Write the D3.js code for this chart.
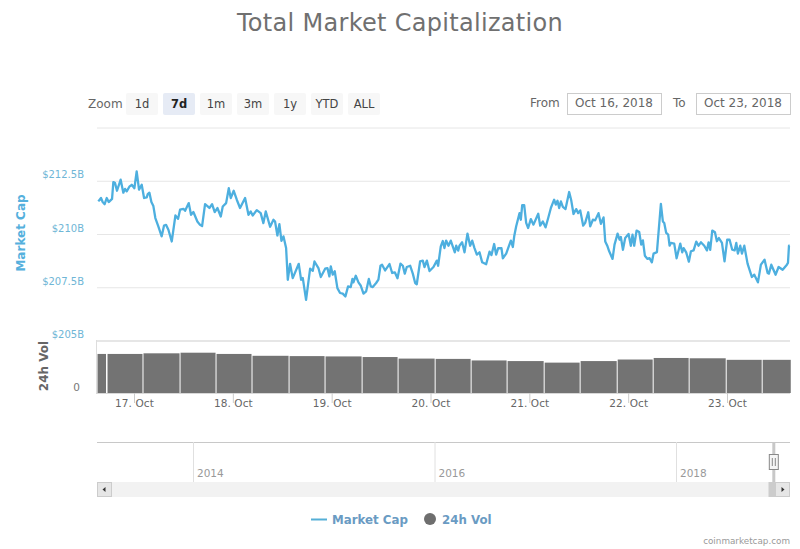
<!DOCTYPE html>
<html>
<head>
<meta charset="utf-8">
<script src="https://cdn.jsdelivr.net/npm/d3@7"></script>
<style>
	html, body { margin: 0; padding: 0; background: #fff; }
	svg { display: block; }
	text { font-family: "DejaVu Sans", sans-serif; }
</style>
</head>
<body>
<div class="chart"></div>
<script>
// market cap: day of October (with fraction) and value in $B
const capDays = [16.639,16.666,16.683,16.703,16.724,16.744,16.778,16.791,16.808,16.828,16.865,16.892,16.909,16.926,16.953,16.977,
	17.004,17.027,17.051,17.078,17.102,17.129,17.139,17.156,17.176,17.196,17.216,17.247,17.280,17.304,17.324,17.348,17.382,17.419,17.446,17.466,
	17.500,17.517,17.554,17.577,17.601,17.641,17.668,17.689,17.719,17.743,17.763,17.790,17.817,17.844,17.878,17.898,17.932,17.959,17.979,
	18.009,18.040,18.073,18.124,18.158,18.181,18.201,18.242,18.282,18.309,18.333,18.377,18.411,18.427,18.451,18.471,18.492,18.512,18.539,18.556,
	18.579,18.606,18.667,18.691,18.708,18.741,18.782,18.809,18.826,18.866,18.890,18.934,18.957,18.977,
	18.991,19.011,19.031,19.058,19.085,19.112,19.139,19.166,19.193,19.210,19.220,19.244,19.271,19.295,19.322,19.349,19.376,19.396,19.416,19.450,
	19.473,19.494,19.510,19.541,19.585,19.612,19.639,19.666,19.696,19.720,19.740,19.760,19.794,19.821,19.845,19.861,19.895,19.922,19.939,19.963,19.990,
	20.030,20.064,20.077,20.104,20.124,20.141,20.158,20.182,20.205,20.246,20.260,20.280,20.293,20.320,20.344,20.374,20.401,20.422,20.445,20.469,
	20.496,20.523,20.563,20.597,20.617,20.644,20.664,20.685,20.718,20.732,20.766,20.792,20.813,20.833,20.847,20.867,20.901,20.914,20.928,20.948,20.968,20.988,
	21.015,21.042,21.090,21.110,21.137,21.164,21.191,21.218,
	21.231,21.251,21.268,21.285,21.302,21.319,21.339,21.366,21.403,21.424,21.447,21.474,21.494,21.515,21.545,21.565,21.596,21.616,21.643,21.666,
	21.700,21.724,21.751,21.768,21.791,21.808,21.842,21.862,21.893,21.913,21.926,21.947,21.970,
	22.004,22.027,22.044,22.061,22.085,22.112,22.132,22.149,22.169,22.196,22.216,22.240,22.257,22.291,22.331,22.351,22.365,22.385,22.405,22.419,22.432,22.466,22.490,
	22.527,22.547,22.561,22.587,22.614,22.635,22.662,22.689,22.712,22.736,22.770,22.797,22.814,22.830,22.851,22.878,22.898,22.918,22.949,22.975,
	23.002,23.026,23.053,23.077,23.094,23.110,23.134,23.151,23.175,23.208,23.252,23.276,23.313,23.343,23.380,23.411,23.424,23.448,23.492,
	23.522,23.563,23.606,23.617,23.627,23.634];
const capValues = [211.53,211.69,211.50,211.40,211.69,211.50,211.65,212.44,212.39,212.03,212.55,211.94,212.12,212.00,212.22,212.31,
	212.15,212.94,212.08,212.31,211.69,211.72,211.87,211.94,211.50,211.31,210.75,210.35,209.89,210.40,210.43,210.20,209.65,210.87,210.71,211.14,
	211.18,211.09,211.45,210.90,211.03,210.59,210.43,210.37,211.40,211.31,211.22,211.40,211.03,211.22,210.82,211.29,211.45,212.15,211.69,
	212.03,211.61,211.22,211.69,210.90,211.06,210.87,211.12,210.98,210.51,211.06,210.34,210.67,210.59,209.93,210.46,209.68,209.89,209.34,207.85,
	208.60,207.93,208.60,207.85,207.93,206.91,208.37,208.27,208.71,208.40,207.98,208.37,208.40,208.01,
	208.48,208.09,208.25,207.46,207.23,207.20,207.07,207.54,207.51,207.89,207.73,208.04,207.73,207.57,207.20,207.31,207.89,207.54,207.51,207.70,
	207.86,208.51,208.56,208.29,208.59,208.17,208.20,207.92,208.61,208.51,208.14,208.45,208.51,208.14,207.70,207.64,208.72,208.75,208.45,208.75,208.26,
	208.45,208.75,208.51,209.42,209.67,209.34,209.69,209.45,209.69,209.14,209.45,209.22,209.45,209.61,209.14,210.02,209.45,209.69,209.34,209.03,
	209.14,208.67,208.58,209.17,209.01,209.53,209.03,209.34,209.33,208.86,209.08,209.42,209.69,209.39,209.89,210.36,210.98,210.67,211.36,211.36,210.52,210.28,
	210.70,210.44,210.95,210.39,210.59,210.31,210.75,211.22,
	211.38,211.61,211.38,211.56,211.22,211.53,211.27,211.17,211.97,211.58,210.94,211.17,210.98,211.11,210.39,210.52,211.02,210.36,210.67,210.64,
	210.98,210.48,210.78,209.65,209.42,209.19,208.83,209.50,210.02,209.73,209.86,209.26,209.81,
	210.00,209.45,209.97,209.45,210.16,210.09,209.50,209.70,208.98,208.83,208.87,208.67,209.08,209.15,211.41,210.59,210.52,210.05,209.97,209.45,209.58,209.55,208.86,
	209.55,209.14,209.34,209.14,208.70,209.19,209.23,209.64,209.45,209.61,209.45,209.23,209.61,209.26,210.16,210.08,209.66,209.81,209.58,208.72,
	209.73,209.73,209.26,209.23,209.58,209.08,209.45,209.08,209.45,208.61,207.98,208.09,207.73,208.56,208.79,208.17,208.14,208.56,208.09,
	208.45,208.32,208.56,208.64,209.45,209.45];

// 24h volume columns: edges in days, one value in $B per column
const volEdges = [16.631,16.727,17.091,17.466,17.830,18.194,18.569,18.933,19.308,19.672,20.047,20.411,20.775,21.150,21.514,21.889,22.253,22.617,22.992,23.356,23.640];
const volValues = [12.6,12.6,12.8,13.0,12.6,12.0,11.9,11.8,11.6,11.1,11.0,10.5,10.3,9.8,10.3,10.8,11.3,11.2,10.7,10.7];

const dayTicks = [17,18,19,20,21,22,23];
const capTicks = [205,207.5,210,212.5,215];
const yearTicks = [2014,2016,2018];
const zoomButtons = ["1d","7d","1m","3m","1y","YTD","ALL"];
const selectedYear = 2018.81;

const width = 800, height = 549;
const plotLeft = 97, plotRight = 790;

const svg = d3.select(".chart").append("svg").
	attr("width", width).
	attr("height", height);

// scales
const x = d3.scaleLinear().domain([17, 23]).range([134, 727]);
const yCap = d3.scaleLinear().domain([205, 215]).range([340.5, 127.5]);
const yVol = d3.scaleLinear().domain([0, 17]).range([393, 340.3]);
const xNav = d3.scaleLinear().domain([2014, 2018]).range([193, 676]);

const grey = "#666666", capBlue = "#4dafdf", labelBlue = "#6fb6d6";

// title
svg.append("text").
	attr("x", 400).attr("y", 31).
	attr("text-anchor", "middle").
	style("font-size", "24px").
	style("letter-spacing", "0.3px").
	style("fill", "#707070").
	text("Total Market Capitalization");

// range selector
svg.append("text").attr("x", 88).attr("y", 108).
	style("font-size", "12px").style("fill", grey).text("Zoom");
const btn = svg.append("g").selectAll("g").data(zoomButtons).enter().append("g").
	attr("transform", (d, i) => "translate(" + (126 + i * 37) + ",93)");
btn.append("rect").
	attr("width", 32).attr("height", 22).attr("rx", 2).
	style("fill", d => d === "7d" ? "#e6ebf5" : "#f7f7f7");
btn.append("text").
	attr("x", 16).attr("y", 15).
	attr("text-anchor", "middle").
	style("font-size", "11.5px").
	style("font-weight", d => d === "7d" ? "bold" : "normal").
	style("fill", d => d === "7d" ? "#222" : "#444").
	text(d => d);

// date inputs
const inputs = [
	{label: "From", labelX: 530, boxX: 567, value: "Oct 16, 2018"},
	{label: "To", labelX: 673, boxX: 696, value: "Oct 23, 2018"}
];
inputs.forEach(d => {
	svg.append("text").attr("x", d.labelX).attr("y", 107).
		style("font-size", "12px").style("fill", grey).text(d.label);
	svg.append("rect").attr("x", d.boxX + 0.5).attr("y", 93.5).attr("width", 94).attr("height", 21).
		style("fill", "#fff").style("stroke", "#cccccc");
	svg.append("text").attr("x", d.boxX + 47).attr("y", 107).attr("text-anchor", "middle").
		style("font-size", "12px").style("fill", grey).text(d.value);
});

// market cap grid and axis
const capAxis = svg.append("g").
	call(d3.axisLeft(yCap).tickValues(capTicks).tickSize(0).tickFormat(d => "$" + d + "B"));
capAxis.select(".domain").remove();
capAxis.selectAll(".tick text").
	attr("x", 84).attr("y", -6).attr("dy", "0.32em").
	style("font-size", "10px").style("font-family", "DejaVu Sans").style("fill", labelBlue);
capAxis.selectAll(".tick").filter(d => d === 215).select("text").remove();
capAxis.selectAll(".tick").append("line").
	attr("x1", plotLeft).attr("x2", plotRight).
	style("stroke", "#e6e6e6").
	style("stroke-width", d => d === 205 ? 2 : 1);

// volume columns
svg.append("g").selectAll("rect").data(volValues).enter().append("rect").
	attr("x", (d, i) => x(volEdges[i]) + (i ? 0.5 : 0)).
	attr("width", (d, i) => x(volEdges[i + 1]) - x(volEdges[i]) - (i === volValues.length - 1 ? 0 : 1)).
	attr("y", d => yVol(d)).
	attr("height", d => yVol(0) - yVol(d)).
	style("fill", "#737373");

// left edge of the volume pane and the zero label
svg.append("line").attr("x1", 96.5).attr("x2", 96.5).attr("y1", 340).attr("y2", 393).style("stroke", "#dddddd");
svg.append("text").attr("x", 80).attr("y", yVol(0) - 2).attr("text-anchor", "end").
	style("font-size", "10.5px").style("fill", "#777").text("0");

// market cap line
const line = d3.line().x(d => x(d[0])).y(d => yCap(d[1]));
svg.append("path").
	datum(capDays.map((d, i) => [d, capValues[i]])).
	attr("d", line).
	style("fill", "none").
	style("stroke", capBlue).
	style("stroke-width", 2.3).
	style("stroke-linejoin", "round");

// time axis
const xAxis = svg.append("g").
	attr("transform", "translate(0,393)").
	call(d3.axisBottom(x).tickValues(dayTicks).tickSize(10).tickFormat(d => d + ". Oct"));
xAxis.select(".domain").attr("d", "M96,0.5H" + plotRight).style("stroke", "#d8d8d8");
xAxis.selectAll(".tick line").style("stroke", "#cccccc");
xAxis.selectAll(".tick text").
	attr("y", 11).attr("dy", "0.32em").
	style("font-size", "10.5px").style("font-family", "DejaVu Sans").
	style("letter-spacing", "0.1px").style("fill", grey);

// axis titles
svg.append("text").
	attr("transform", "translate(25,233) rotate(-90)").attr("text-anchor", "middle").
	style("font-size", "12px").style("font-weight", "bold").style("fill", "#55b0dd").
	text("Market Cap");
svg.append("text").
	attr("transform", "translate(48,366) rotate(-90)").attr("text-anchor", "middle").
	style("font-size", "12px").style("font-weight", "bold").style("fill", grey).
	text("24h Vol");

// navigator
svg.append("line").attr("x1", plotLeft).attr("x2", plotRight).attr("y1", 442.5).attr("y2", 442.5).style("stroke", "#c8c8c8");
const navAxis = svg.append("g").
	attr("transform", "translate(0,442)").
	call(d3.axisBottom(xNav).tickValues(yearTicks).tickSize(40).tickFormat(d => d));
navAxis.select(".domain").remove();
navAxis.selectAll(".tick line").style("stroke", "#e0e0e0");
navAxis.selectAll(".tick text").
	attr("text-anchor", "start").attr("x", 3.5).attr("y", 32).attr("dy", "0.32em").
	style("font-size", "10.5px").style("font-family", "DejaVu Sans").style("fill", "#999");

// scrollbar
svg.append("rect").attr("x", plotLeft).attr("y", 482).attr("width", plotRight - plotLeft).attr("height", 15).style("fill", "#f2f2f2");
svg.append("rect").attr("x", 768.5).attr("y", 482).attr("width", 7.5).attr("height", 15).style("fill", "#cccccc");
[{bx: 97.5, dir: -1}, {bx: 775.5, dir: 1}].forEach(b => {
	svg.append("rect").attr("x", b.bx).attr("y", 482.5).attr("width", 14).attr("height", 14).
		style("fill", "#e6e6e6").style("stroke", "#cccccc");
	const cx = b.bx + 7;
	svg.append("path").
		attr("d", "M" + (cx + b.dir * 2) + ",489.5L" + (cx - b.dir * 1) + ",487V492Z").
		style("fill", "#333");
});

// selected range in the navigator
const selX = xNav(selectedYear);
svg.append("rect").attr("x", selX - 1.5).attr("y", 442).attr("width", 3).attr("height", 40).style("fill", "#c8c8c8");
svg.append("rect").attr("x", selX - 4.5).attr("y", 454.5).attr("width", 9).attr("height", 15).
	style("fill", "#f5f5f5").style("stroke", "#888");
[-1.5, 1.5].forEach(dx => {
	svg.append("line").attr("x1", selX + dx).attr("x2", selX + dx).attr("y1", 458).attr("y2", 466).style("stroke", "#888");
});

// legend
svg.append("line").attr("x1", 311).attr("x2", 327).attr("y1", 519.5).attr("y2", 519.5).
	style("stroke", "#55afd6").style("stroke-width", 2);
svg.append("text").attr("x", 332).attr("y", 524).
	style("font-size", "11.8px").style("font-weight", "bold").style("fill", "#6a9bc3").text("Market Cap");
svg.append("circle").attr("cx", 430).attr("cy", 519).attr("r", 6).style("fill", "#6e6e6e");
svg.append("text").attr("x", 442).attr("y", 524).
	style("font-size", "11.8px").style("font-weight", "bold").style("fill", "#6a9bc3").text("24h Vol");

// credits
svg.append("text").attr("x", 790).attr("y", 544).attr("text-anchor", "end").
	style("font-size", "8.8px").style("fill", "#999").text("coinmarketcap.com");
</script>
</body>
</html>
